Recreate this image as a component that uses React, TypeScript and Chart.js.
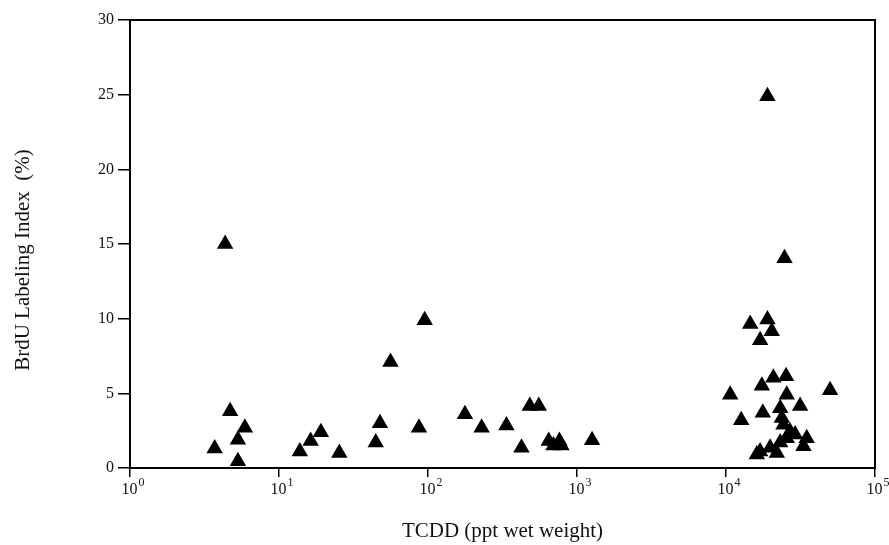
import React, { useEffect, useRef } from "react";
import { Chart, registerables } from "chart.js";

Chart.register(...registerables);

const tcdd: number[] = [
  4.35, 4.7, 3.7, 5.9, 5.3, 5.3, 13.8, 16.3, 19.1, 25.4, 44.6, 47.6, 56, 95, 87,
  177, 229, 336, 424, 482, 554, 646, 695, 762, 786, 1262,
  10670, 12650, 14530, 18970, 20280, 16940, 17660, 17400, 20790, 25300, 25570,
  31430, 49930, 23120, 23700, 24300, 29100, 34800, 33100, 16940, 16100, 19780,
  23100, 21930, 25570, 26900, 18970, 24700,
];
const brdu: number[] = [
  15.0, 3.8, 1.3, 2.7, 1.9, 0.45, 1.1, 1.8, 2.4, 1.0, 1.7, 3.0, 7.1, 9.9, 2.7,
  3.6, 2.7, 2.85, 1.35, 4.15, 4.15, 1.8, 1.5, 1.8, 1.5, 1.85,
  4.9, 3.2, 9.65, 9.95, 9.15, 8.55, 3.7, 5.5, 6.05, 6.15, 4.9,
  4.15, 5.2, 4.0, 3.35, 2.9, 2.25, 2.0, 1.45, 1.1, 0.9, 1.35,
  1.7, 1.0, 2.0, 2.45, 24.9, 14.05,
];
const xTickValues: number[] = [1, 10, 100, 1000, 10000, 100000];
const xTickExponents: string[] = ["0", "1", "2", "3", "4", "5"];
const yTickValues: number[] = [0, 5, 10, 15, 20, 25, 30];

const xTitle = "TCDD (ppt wet weight)";
const yTitle = "BrdU Labeling Index  (%)";

const FONT = "'Liberation Serif', 'Times New Roman', serif";

const boxAndLabels = {
  id: "boxAndLabels",
  afterDraw(chart: any) {
    const { ctx, chartArea } = chart;
    const xs = chart.scales.x;
    ctx.save();
    ctx.strokeStyle = "#000";
    ctx.lineWidth = 2;
    ctx.strokeRect(chartArea.left, chartArea.top, chartArea.right - chartArea.left, chartArea.bottom - chartArea.top);
    ctx.fillStyle = "#111";
    ctx.textBaseline = "alphabetic";
    ctx.textAlign = "left";
    xTickValues.forEach((v, i) => {
      const px = xs.getPixelForValue(v);
      ctx.font = `16px ${FONT}`;
      const w1 = ctx.measureText("10").width;
      ctx.font = `12px ${FONT}`;
      const w2 = ctx.measureText(xTickExponents[i]).width;
      const start = px - (w1 + w2 + 1) / 2 + 3;
      ctx.font = `16px ${FONT}`;
      ctx.fillText("10", start, 494);
      ctx.font = `12px ${FONT}`;
      ctx.fillText(xTickExponents[i], start + w1 + 1, 486);
    });
    // y-axis title
    ctx.translate(23, 260);
    ctx.rotate(-Math.PI / 2);
    ctx.textAlign = "center";
    ctx.textBaseline = "middle";
    ctx.font = `21px ${FONT}`;
    ctx.fillText(yTitle, 0, 0);
    ctx.restore();
  },
};

export default function App() {
  const ref = useRef<HTMLCanvasElement>(null);
  useEffect(() => {
    if (!ref.current) return;
    const chart = new Chart(ref.current, {
      type: "scatter",
      data: {
        datasets: [
          {
            data: tcdd.map((x, i) => ({ x, y: brdu[i] })),
            pointStyle: "triangle",
            radius: 7.5,
            backgroundColor: "#000",
            borderColor: "#000",
            borderWidth: 2,
          },
        ],
      },
      options: {
        responsive: false,
        animation: false,
        layout: { padding: { left: 0, top: 20, right: 14, bottom: 0 } },
        plugins: { legend: { display: false }, tooltip: { enabled: false } },
        scales: {
          x: {
            type: "logarithmic",
            min: 1,
            max: 100000,
            afterBuildTicks: (s: any) => {
              s.ticks = xTickValues.map((v) => ({ value: v }));
            },
            afterFit: (s: any) => {
              s.height = 77;
            },
            ticks: { callback: () => "", color: "rgba(0,0,0,0)", font: { size: 16, family: FONT } },
            grid: { drawOnChartArea: false, drawTicks: true, tickLength: 9, color: "#000", lineWidth: 1.5 },
            border: { display: true, color: "#000", width: 2 },
            title: {
              display: true,
              text: xTitle,
              color: "#111",
              font: { size: 21, family: FONT },
              padding: { top: 0, bottom: 1 },
            },
          },
          y: {
            type: "linear",
            min: 0,
            max: 30,
            afterBuildTicks: (s: any) => {
              s.ticks = yTickValues.map((v) => ({ value: v }));
            },
            afterFit: (s: any) => {
              s.width = 130;
            },
            ticks: { color: "#111", font: { size: 16, family: FONT }, padding: 4 },
            grid: { drawOnChartArea: false, drawTicks: true, tickLength: 12, color: "#000", lineWidth: 1.5 },
            border: { display: true, color: "#000", width: 2 },
            title: { display: false, text: yTitle },
          },
        },
      },
      plugins: [boxAndLabels],
    });
    return () => chart.destroy();
  }, []);
  return (
    <div style={{ position: "absolute", left: 0, top: 0, width: 889, height: 545, background: "#fff" }}>
      <canvas ref={ref} width={889} height={545} />
    </div>
  );
}
